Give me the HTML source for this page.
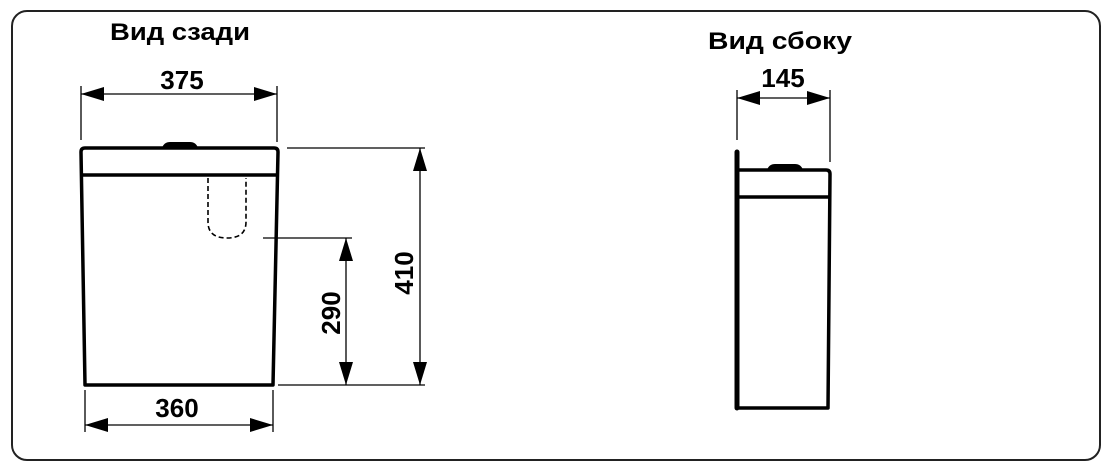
<!DOCTYPE html>
<html><head><meta charset="utf-8"><style>
html,body{margin:0;padding:0;background:#fff;}
svg{display:block;}
text{font-family:"Liberation Sans","DejaVu Sans",sans-serif;font-weight:bold;fill:#000;}
</style></head><body>
<svg width="1117" height="469" viewBox="0 0 1117 469" xmlns="http://www.w3.org/2000/svg">
<defs>
<marker id="a" viewBox="0 0 10 10" refX="10" refY="5" markerWidth="10" markerHeight="10" markerUnits="userSpaceOnUse" orient="auto-start-reverse">
</marker>
</defs>
<rect x="12" y="11" width="1088" height="449" rx="15" fill="none" stroke="#222" stroke-width="2"/>
<text x="110" y="40" font-size="24" textLength="140" lengthAdjust="spacingAndGlyphs">Вид сзади</text>
<text x="708" y="49" font-size="24" textLength="144" lengthAdjust="spacingAndGlyphs">Вид сбоку</text>

<g stroke="#000" stroke-width="1.3" fill="none">
<!-- 375 -->
<line x1="81" y1="86" x2="81" y2="140"/><line x1="277" y1="86" x2="277" y2="142"/>
<line x1="81" y1="94" x2="277" y2="94"/>
<!-- 410 -->
<line x1="287" y1="148" x2="425" y2="148"/><line x1="278" y1="385" x2="425" y2="385"/>
<line x1="420" y1="148" x2="420" y2="385"/>
<!-- 290 -->
<line x1="263" y1="238" x2="352" y2="238"/><line x1="346" y1="238" x2="346" y2="385"/>
<!-- 360 -->
<line x1="85" y1="390" x2="85" y2="432"/><line x1="273" y1="390" x2="273" y2="432"/>
<line x1="85" y1="425" x2="273" y2="425"/>
<!-- 145 -->
<line x1="737" y1="90" x2="737" y2="140"/><line x1="830" y1="90" x2="830" y2="162"/>
<line x1="737" y1="98" x2="830" y2="98"/>
</g>
<g fill="#000">
<polygon points="81,94 104,87 104,101"/><polygon points="277,94 254,87 254,101"/>
<polygon points="420,148 413,171 427,171"/><polygon points="420,385 413,362 427,362"/>
<polygon points="346,238 339,261 353,261"/><polygon points="346,385 339,362 353,362"/>
<polygon points="85,425 108,418 108,432"/><polygon points="273,425 250,418 250,432"/>
<polygon points="737,98 760,91 760,105"/><polygon points="830,98 807,91 807,105"/>
</g>
<text x="182" y="89" font-size="26" text-anchor="middle">375</text>
<text x="177" y="417" font-size="26" text-anchor="middle">360</text>
<text x="783" y="87" font-size="26" text-anchor="middle">145</text>
<text transform="translate(340,313) rotate(-90)" font-size="26" text-anchor="middle">290</text>
<text transform="translate(413,273) rotate(-90)" font-size="26" text-anchor="middle">410</text>

<!-- back view tank -->
<g stroke="#000" stroke-width="3.5" fill="none" stroke-linejoin="round">
<path d="M85,385 L81,152 Q81,148 85,148 L274,148 Q278,148 278,152 L273,385 Z"/>
<line x1="82" y1="175" x2="278" y2="175"/>
</g>
<path d="M162,148 Q164,142 170,142 L190,142 Q196,142 198,148 Z" fill="#000"/>
<path d="M208,178 L208,222 Q208,238 227,238 Q246,238 246,222 L246,178" fill="none" stroke="#000" stroke-width="1.6" stroke-dasharray="5,3"/>

<!-- side view -->
<g stroke="#000" stroke-width="3.5" fill="none" stroke-linejoin="round">
<line x1="737" y1="152" x2="737" y2="408" stroke-width="5" stroke-linecap="round"/>
<path d="M739,170 L826,170 Q830,170 830,174 L828,408 L739,408"/>
<line x1="739" y1="197" x2="830" y2="197"/>
</g>
<path d="M767,170 Q769,164 775,164 L795,164 Q801,164 803,170 Z" fill="#000"/>
</svg>
</body></html>
